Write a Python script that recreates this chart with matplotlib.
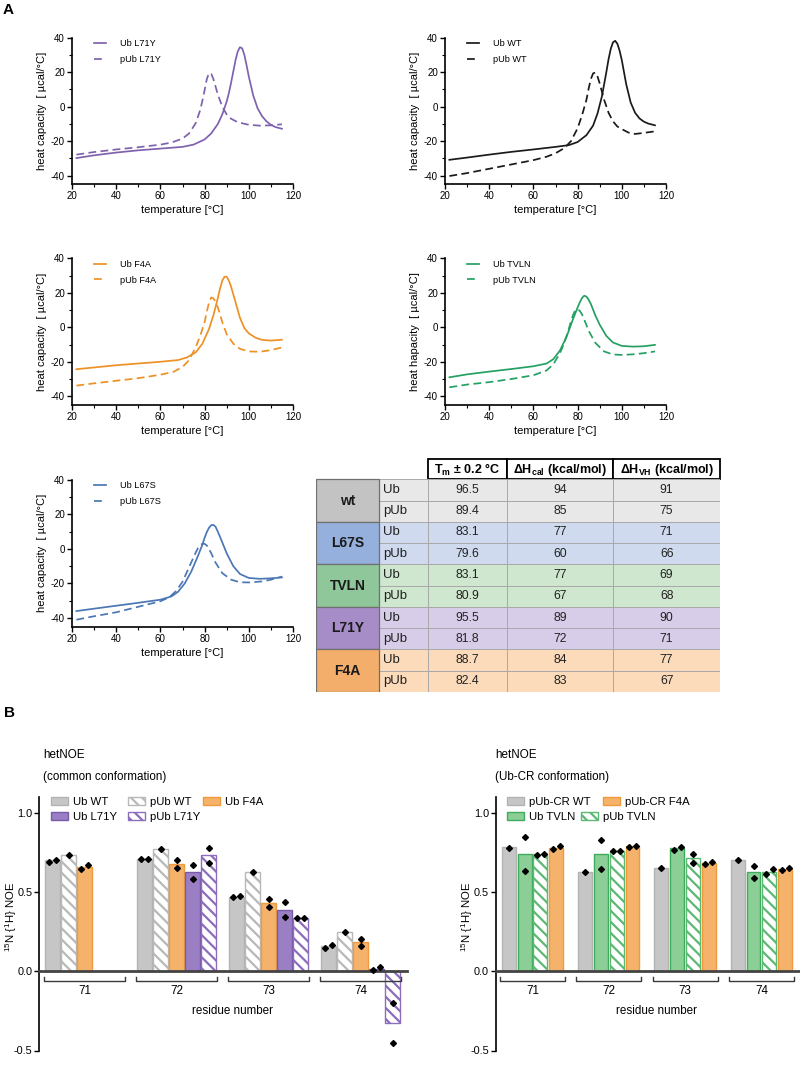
import numpy as np
import matplotlib
matplotlib.use("Agg")
import matplotlib.pyplot as plt
from matplotlib.patches import Rectangle, Patch
from matplotlib.ticker import MultipleLocator, FormatStrFormatter

plt.rcParams["font.family"] = ["Liberation Sans", "DejaVu Sans"]
plt.rcParams["mathtext.fontset"] = "custom"
plt.rcParams["mathtext.rm"] = "Liberation Sans"
plt.rcParams["mathtext.it"] = "Liberation Sans:italic"
plt.rcParams["mathtext.bf"] = "Liberation Sans:bold"
plt.rcParams["axes.unicode_minus"] = False
plt.rcParams["hatch.linewidth"] = 1.6

# ---- DSC thermograms (temperature in degC, heat capacity in ucal/degC) ----
t_ub_l71y = [22, 30, 40, 50, 60, 70, 75, 80, 83, 86, 88, 90, 91, 92, 93, 94, 95, 96, 97, 98, 99, 100, 102, 104, 106, 108, 110, 112, 115]
cp_ub_l71y = [-29.8, -28.2, -26.6, -25.3, -24.3, -23.3, -22.0, -19.0, -15.5, -10.0, -4.5, 3.0, 8.0, 14.0, 20.5, 27.0, 32.0, 34.5, 33.8, 30.0, 24.0, 17.5, 6.5, -1.0, -5.5, -8.5, -10.5, -11.8, -12.8]
t_pub_l71y = [22, 30, 40, 50, 60, 65, 70, 73, 76, 78, 79, 80, 81, 82, 83, 84, 85, 86, 88, 90, 92, 95, 100, 105, 110, 115]
cp_pub_l71y = [-27.8, -26.3, -24.8, -23.5, -22.0, -20.8, -18.5, -15.5, -9.5, -2.0, 3.5, 9.5, 16.0, 19.5, 19.0, 16.0, 11.5, 7.0, 0.0, -4.5, -7.0, -9.0, -10.5, -11.0, -10.8, -10.2]

t_ub_wt = [22, 30, 40, 50, 60, 70, 76, 80, 84, 87, 89, 91, 93, 94, 95, 96, 97, 98, 99, 100, 102, 104, 106, 108, 110, 112, 115]
cp_ub_wt = [-30.8, -29.5, -27.8, -26.2, -24.8, -23.3, -22.3, -20.5, -16.5, -11.0, -4.0, 6.0, 20.0, 27.5, 33.5, 37.3, 38.2, 36.5, 32.5, 27.0, 13.0, 2.5, -3.5, -6.8, -8.7, -9.8, -10.8]
t_pub_wt = [22, 30, 40, 50, 60, 66, 70, 74, 77, 80, 82, 84, 85, 86, 87, 88, 89, 90, 92, 94, 96, 98, 100, 103, 106, 110, 115]
cp_pub_wt = [-40.2, -38.5, -36.0, -33.5, -31.0, -29.0, -27.0, -24.0, -20.0, -12.5, -5.0, 4.0, 10.5, 16.0, 19.3, 19.8, 17.5, 13.5, 4.0, -3.5, -8.5, -11.5, -13.0, -15.0, -15.8, -15.2, -14.3]

t_ub_f4a = [22, 30, 40, 50, 60, 68, 72, 76, 79, 82, 84, 86, 87, 88, 89, 90, 91, 92, 94, 96, 98, 100, 103, 106, 110, 115]
cp_ub_f4a = [-24.3, -23.3, -22.0, -21.0, -20.0, -19.0, -17.5, -14.5, -9.5, -1.0, 7.0, 17.0, 22.5, 27.0, 29.3, 29.3, 27.0, 23.5, 14.5, 5.5, -0.5, -3.5, -6.0, -7.3, -7.7, -7.2]
t_pub_f4a = [22, 30, 40, 50, 60, 66, 70, 73, 76, 78, 80, 81, 82, 83, 84, 85, 86, 88, 90, 93, 96, 100, 105, 110, 115]
cp_pub_f4a = [-33.8, -32.5, -31.0, -29.5, -27.5, -25.8, -23.0, -19.0, -11.5, -5.0, 3.0, 9.0, 14.5, 17.3, 16.8, 14.5, 11.5, 3.0, -4.0, -9.5, -12.5, -14.0, -14.2, -13.2, -11.7]

t_ub_tvln = [22, 30, 40, 50, 60, 66, 69, 72, 75, 78, 80, 81, 82, 83, 84, 85, 86, 88, 90, 93, 96, 100, 105, 110, 115]
cp_ub_tvln = [-29.0, -27.3, -25.7, -24.2, -22.6, -21.0, -18.5, -13.5, -5.5, 5.0, 11.5, 14.5, 17.0, 18.3, 17.8, 16.0, 13.5, 7.0, 1.5, -5.0, -8.8, -10.8, -11.2, -11.0, -10.2]
t_pub_tvln = [22, 30, 40, 50, 60, 66, 69, 72, 74, 76, 77, 78, 79, 80, 81, 82, 83, 85, 88, 92, 96, 100, 105, 110, 115]
cp_pub_tvln = [-34.8, -33.2, -31.8, -30.0, -27.8, -25.0, -21.5, -15.0, -9.0, -1.0, 3.5, 7.3, 10.0, 10.5, 9.5, 7.5, 4.5, -2.0, -9.0, -14.0, -15.8, -16.0, -15.7, -15.0, -14.0]

t_ub_l67s = [22, 30, 40, 50, 60, 65, 68, 71, 74, 77, 79, 80, 81, 82, 83, 84, 85, 86, 87, 90, 93, 96, 100, 105, 110, 115]
cp_ub_l67s = [-36.0, -34.6, -32.9, -31.2, -29.4, -27.5, -24.8, -20.0, -13.0, -4.0, 2.5, 6.5, 9.8, 12.3, 13.8, 14.0, 12.8, 10.0, 7.0, -2.5, -10.0, -14.5, -16.8, -17.3, -17.0, -16.5]
t_pub_l67s = [22, 30, 40, 50, 60, 64, 67, 70, 73, 76, 77, 78, 79, 80, 81, 82, 83, 85, 88, 92, 96, 100, 106, 110, 115]
cp_pub_l67s = [-41.0, -39.0, -36.7, -33.5, -30.3, -28.0, -24.5, -19.0, -10.5, -2.0, 0.5, 2.2, 3.0, 3.0, 2.0, 0.0, -2.5, -8.0, -14.0, -17.8, -19.3, -19.4, -18.8, -17.8, -16.0]

# ---- table ----
table_groups = ["wt", "L67S", "TVLN", "L71Y", "F4A"]
table_forms = ["Ub", "pUb"]
tm_values = [96.5, 89.4, 83.1, 79.6, 83.1, 80.9, 95.5, 81.8, 88.7, 82.4]
dh_cal_values = [94, 85, 77, 60, 77, 67, 89, 72, 84, 83]
dh_vh_values = [91, 75, 71, 66, 69, 68, 90, 71, 77, 67]

# ---- hetNOE ----
nan = np.nan
residues = ["71", "72", "73", "74"]
ub_wt_common = [0.702, 0.706, 0.470, 0.157]
ub_wt_common_pts = [[0.690, 0.704], [0.706, 0.706], [0.465, 0.472], [0.145, 0.168]]
pub_wt_common = [0.736, 0.769, 0.623, 0.249]
pub_wt_common_pts = [[0.734], [0.769], [0.623], [0.249]]
ub_f4a_common = [0.660, 0.675, 0.432, 0.182]
ub_f4a_common_pts = [[0.644, 0.673], [0.700, 0.650], [0.455, 0.405], [0.161, 0.201]]
ub_l71y_common = [nan, 0.627, 0.388, 0.015]
ub_l71y_common_pts = [[], [0.673, 0.583], [0.434, 0.340], [0.005, 0.027]]
pub_l71y_common = [nan, 0.730, 0.335, -0.329]
pub_l71y_common_pts = [[], [0.776, 0.683], [0.335, 0.335], [-0.199, -0.451]]

pubcr_wt = [0.782, 0.625, 0.654, 0.700]
pubcr_wt_pts = [[0.780], [0.623], [0.652], [0.700]]
ub_tvln = [0.738, 0.738, 0.776, 0.627]
ub_tvln_pts = [[0.847, 0.629], [0.830, 0.644], [0.763, 0.786], [0.665, 0.591]]
pub_tvln = [0.738, 0.759, 0.713, 0.627]
pub_tvln_pts = [[0.730, 0.740], [0.759, 0.759], [0.742, 0.681], [0.616, 0.642]]
pubcr_f4a = [0.780, 0.790, 0.681, 0.646]
pubcr_f4a_pts = [[0.769, 0.790], [0.784, 0.790], [0.675, 0.686], [0.639, 0.648]]

W, H = 800, 1070
fig = plt.figure(figsize=(W / 100, H / 100), dpi=100)


def fx(px):
    return px / W


def fy(py):
    return 1 - py / H


def dsc_panel(left_px, top_px, t1, c1, t2, c2, color, names, ylabel):
    ax = fig.add_axes([fx(left_px), fy(top_px + 146.6), 221 / W, 146.6 / H])
    ax.plot(t1, c1, color=color, lw=1.25, label=names[0], solid_joinstyle="round")
    ax.plot(t2, c2, color=color, lw=1.25, ls=(0, (4.5, 2.5)), label=names[1])
    ax.set_xlim(20, 120)
    ax.set_ylim(-45, 40)
    for s in ("top", "right"):
        ax.spines[s].set_visible(False)
    for s in ("left", "bottom"):
        ax.spines[s].set_linewidth(1.2)
    ax.xaxis.set_major_locator(MultipleLocator(20))
    ax.xaxis.set_minor_locator(MultipleLocator(10))
    ax.yaxis.set_major_locator(MultipleLocator(20))
    ax.yaxis.set_minor_locator(MultipleLocator(10))
    ax.tick_params(which="major", direction="out", length=3.5, width=1, labelsize=7, pad=1.5)
    ax.tick_params(which="minor", direction="out", length=2, width=0.8)
    ax.set_xlabel("temperature [°C]", fontsize=8, labelpad=3)
    ax.set_ylabel(ylabel, fontsize=8, labelpad=3)
    ax.legend(loc="upper left", bbox_to_anchor=(0.1, 0.99), frameon=False, fontsize=6.6,
              handlelength=1.35, handletextpad=1.45, labelspacing=0.75,
              borderpad=0, borderaxespad=0)
    return ax


dsc_panel(72, 37.7, t_ub_l71y, cp_ub_l71y, t_pub_l71y, cp_pub_l71y, "#7f62ad",
          ["Ub L71Y", "pUb L71Y"], "heat capacity  [ µcal/°C]")
dsc_panel(445, 37.7, t_ub_wt, cp_ub_wt, t_pub_wt, cp_pub_wt, "#1a1a1a",
          ["Ub WT", "pUb WT"], "heat capacity  [ µcal/°C]")
dsc_panel(72, 258.3, t_ub_f4a, cp_ub_f4a, t_pub_f4a, cp_pub_f4a, "#ee9125",
          ["Ub F4A", "pUb F4A"], "heat capacity  [ µcal/°C]")
dsc_panel(445, 258.3, t_ub_tvln, cp_ub_tvln, t_pub_tvln, cp_pub_tvln, "#23a062",
          ["Ub TVLN", "pUb TVLN"], "heat hapacity  [ µcal/°C]")
dsc_panel(72, 480, t_ub_l67s, cp_ub_l67s, t_pub_l67s, cp_pub_l67s, "#4b77b5",
          ["Ub L67S", "pUb L67S"], "heat capacity  [ µcal/°C]")

# ---- table (axes data units = figure pixels) ----
tab = fig.add_axes([fx(316), fy(692), 404 / W, (692 - 459.3) / H])
tab.set_xlim(316, 720)
tab.set_ylim(692, 459.3)
tab.axis("off")
cols = [316, 379.3, 428.3, 506.7, 613.3, 720]
head_top, head_bot = 459.3, 479.3
row_h = (692 - head_bot) / len(tm_values)
group_colors = ["#c3c3c3", "#95b0dc", "#8fc69a", "#a68dc8", "#f3ae6b"]
row_colors = ["#e8e8e8", "#cfdaef", "#cfe6cf", "#d8cde9", "#fcdbbb"]
headers = [r"T$_\mathregular{m}$ ± 0.2 °C", r"ΔH$_\mathregular{cal}$ (kcal/mol)",
           r"ΔH$_\mathregular{VH}$ (kcal/mol)"]
for j, htxt in enumerate(headers):
    x0, x1 = cols[j + 2], cols[j + 3]
    tab.add_patch(Rectangle((x0, head_top), x1 - x0, head_bot - head_top, fc="white",
                            ec="black", lw=1.3, clip_on=False))
    tab.text((x0 + x1) / 2, (head_top + head_bot) / 2 + 0.5, htxt, ha="center", va="center",
             fontsize=9, fontweight="bold")
for g, name in enumerate(table_groups):
    y0 = head_bot + 2 * g * row_h
    for r in range(2):
        i = 2 * g + r
        yr = y0 + r * row_h
        for j in range(1, 5):
            tab.add_patch(Rectangle((cols[j], yr), cols[j + 1] - cols[j], row_h,
                                    fc=row_colors[g], ec="#a9a9a9", lw=0.7))
        tab.text(cols[1] + 4, yr + row_h / 2, table_forms[r], ha="left", va="center",
                 fontsize=9.5, color="#222222")
        tab.text((cols[2] + cols[3]) / 2, yr + row_h / 2, f"{tm_values[i]:.1f}",
                 ha="center", va="center", fontsize=8.8, color="#222222")
        tab.text((cols[3] + cols[4]) / 2, yr + row_h / 2, f"{dh_cal_values[i]}",
                 ha="center", va="center", fontsize=8.8, color="#222222")
        tab.text((cols[4] + cols[5]) / 2, yr + row_h / 2, f"{dh_vh_values[i]}",
                 ha="center", va="center", fontsize=8.8, color="#222222")
    tab.add_patch(Rectangle((cols[0], y0), cols[1] - cols[0], 2 * row_h,
                            fc=group_colors[g], ec="#707070", lw=0.9))
    tab.text((cols[0] + cols[1]) / 2, y0 + row_h, name, ha="center", va="center",
             fontsize=10, fontweight="bold", color="#1a1a1a")

# ---- hetNOE bar charts ----
gray_style = dict(facecolor="#c6c6c6", edgecolor="#b3b3b3", linewidth=1)
gray_hatch = dict(facecolor="white", edgecolor="#b8b8b8", hatch="\\\\\\", linewidth=1)
orange_style = dict(facecolor="#f5b26b", edgecolor="#ef9a3c", linewidth=1)
purple_style = dict(facecolor="#9a7fc4", edgecolor="#7b5ba9", linewidth=1)
purple_hatch = dict(facecolor="white", edgecolor="#8c6dbb", hatch="\\\\\\", linewidth=1)
green_style = dict(facecolor="#8ccf96", edgecolor="#3eab5d", linewidth=1)
green_hatch = dict(facecolor="white", edgecolor="#5cb872", hatch="\\\\\\", linewidth=1)


def bar_panel(left_px, right_px, spacing, first_px, unit_px, series, legend_pos,
              title, title_px, ylabel_px):
    y_top_px, y_bot_px = 796.8, 1050.5
    ax = fig.add_axes([fx(left_px), fy(y_bot_px), (right_px - left_px) / W,
                       (y_bot_px - y_top_px) / H])
    ax.set_ylim(-0.5, 1.1)
    ax.set_xlim((left_px - first_px) / unit_px, (right_px - first_px) / unit_px)
    groups = np.arange(len(residues)) * spacing
    nb = len(series)
    for k, (name, vals, pts, style) in enumerate(series):
        x = groups + k
        ax.bar(x, vals, width=0.88, zorder=2, **style)
        for xi, reps in zip(x, pts):
            if len(reps) == 2 and abs(reps[0] - reps[1]) < 0.04:
                offs = np.array([-0.22, 0.22])
            else:
                offs = np.zeros(len(reps))
            ax.plot(xi + offs, reps, "D", ms=3, color="black", zorder=4, clip_on=False)
        lx, ly = legend_pos[k]
        fig.legend(handles=[Patch(label=name, **style)], loc="center left",
                   bbox_to_anchor=(fx(lx), fy(ly)), frameon=False, fontsize=8.2,
                   handlelength=1.5, handleheight=0.68, handletextpad=0.45,
                   borderpad=0, borderaxespad=0)
    for g, lab in zip(groups, residues):
        x0, x1 = g - 0.55, g + nb - 1 + 0.55
        ax.plot([x0, x0, x1, x1], [-0.038, -0.063, -0.063, -0.038], color="#3a3a3a",
                lw=1, clip_on=False)
        ax.text(g + (nb - 1) / 2, -0.125, lab, ha="center", va="center", fontsize=8.4)
    ax.text(np.mean([groups[0], groups[-1] + nb - 1]) + 0.6, -0.25, "residue number",
            ha="center", va="center", fontsize=8.4)
    for s in ("top", "right"):
        ax.spines[s].set_visible(False)
    ax.spines["bottom"].set_position(("data", 0))
    ax.spines["bottom"].set_color("#444444")
    ax.spines["bottom"].set_linewidth(2)
    ax.spines["bottom"].set_zorder(3)
    ax.spines["left"].set_linewidth(1.2)
    ax.set_xticks([])
    ax.yaxis.set_major_locator(MultipleLocator(0.5))
    ax.yaxis.set_major_formatter(FormatStrFormatter("%.1f"))
    ax.tick_params(axis="y", direction="out", length=3.5, width=1, labelsize=7.8, pad=1.5)
    fig.text(fx(ylabel_px), fy(917), r"$^\mathregular{15}$N {$^\mathregular{1}$H} NOE",
             rotation=90, ha="center", va="center", fontsize=8.2)
    fig.text(fx(title_px), fy(755), title[0], ha="left", va="center", fontsize=8.4)
    fig.text(fx(title_px), fy(777), title[1], ha="left", va="center", fontsize=8.4)
    return ax


bar_panel(39.3, 407, 5.75, 52.5, 16.0,
          [("Ub WT", ub_wt_common, ub_wt_common_pts, gray_style),
           ("pUb WT", pub_wt_common, pub_wt_common_pts, gray_hatch),
           ("Ub F4A", ub_f4a_common, ub_f4a_common_pts, orange_style),
           ("Ub L71Y", ub_l71y_common, ub_l71y_common_pts, purple_style),
           ("pUb L71Y", pub_l71y_common, pub_l71y_common_pts, purple_hatch)],
          [(51, 801.7), (128, 801.7), (203, 801.7), (51, 817.3), (128, 817.3)],
          ["hetNOE", "(common conformation)"], 43, 11)

bar_panel(496, 800, 4.83, 508.8, 15.8,
          [("pUb-CR WT", pubcr_wt, pubcr_wt_pts, gray_style),
           ("Ub TVLN", ub_tvln, ub_tvln_pts, green_style),
           ("pUb TVLN", pub_tvln, pub_tvln_pts, green_hatch),
           ("pUb-CR F4A", pubcr_f4a, pubcr_f4a_pts, orange_style)],
          [(506.7, 801.7), (506.7, 817.3), (581, 817.3), (603, 801.7)],
          ["hetNOE", "(Ub-CR conformation)"], 495, 467)

fig.text(fx(3), fy(10), "A", fontsize=11, fontweight="bold", ha="left", va="center")
fig.text(fx(4), fy(713), "B", fontsize=11, fontweight="bold", ha="left", va="center")

fig.savefig("out.png", dpi=100)
